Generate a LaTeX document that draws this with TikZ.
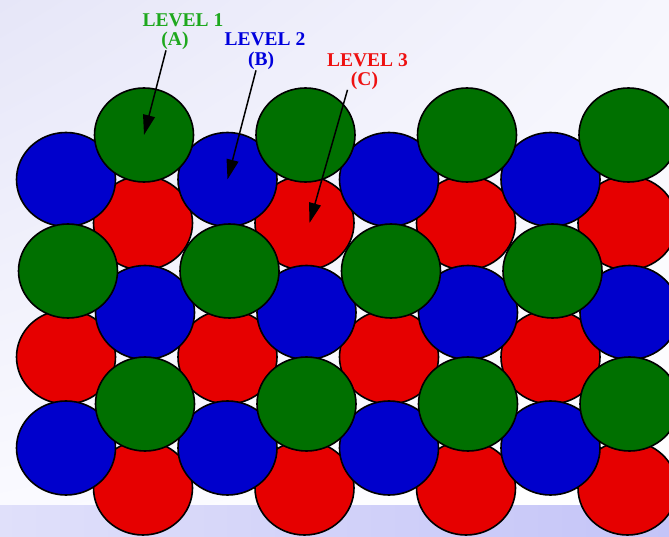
\documentclass[tikz,border=0pt]{standalone}
\usepackage{fontspec}
\setmainfont{Liberation Serif}
\usetikzlibrary{arrows.meta,shapes.geometric,shadings}
\definecolor{ballgreen}{HTML}{007000}
\definecolor{ballblue}{HTML}{0000CC}
\definecolor{ballred}{HTML}{E60000}
\definecolor{lvlgreen}{HTML}{1EA81E}
\definecolor{lvlblue}{HTML}{0000DD}
\definecolor{lvlred}{HTML}{EE1111}
\definecolor{bgcorner}{HTML}{E6E6F8}
\definecolor{bgright}{HTML}{F6F6FD}
\definecolor{bgpale}{HTML}{FAFAFF}
\definecolor{bandleft}{HTML}{E0E0FA}
\definecolor{bandright}{HTML}{C4C4F8}

\begin{document}
\begin{tikzpicture}[x=1pt,y=-1pt,
  ball/.style={draw=black,line width=1.6pt,ellipse,minimum width=99pt,minimum height=94pt,inner sep=0pt},
  level/.style={font=\fontsize{19.5}{22}\selectfont\bfseries,inner sep=0pt,anchor=base},
  pointer/.style={-{Triangle[length=20pt,width=12pt]},line width=1.5pt}]
  % slide background
  \clip (0,0) rectangle (669,537);
  \shade[upper left=bgcorner,upper right=bgright,lower left=bgpale,lower right=white] (0,0) rectangle (669,505);
  \shade[left color=bandleft,right color=bandright] (0,505) rectangle (669,537);
  % level C (red), then B (blue), then A (green) on top
  \foreach \y/\xo [count=\i] in {223/143,357/66,488/143}
    \foreach \j in {1,...,4}
      \node[ball,fill=ballred] (r\i-\j) at (\xo+161.5*\j-161.5,\y) {};
  \foreach \y/\xo [count=\i] in {179.5/66,312.5/145,448/66}
    \foreach \j in {1,...,4}
      \node[ball,fill=ballblue] (b\i-\j) at (\xo+161.5*\j-161.5,\y) {};
  \foreach \y/\xo [count=\i] in {135/144,271/68,404/145}
    \foreach \j in {1,...,4}
      \node[ball,fill=ballgreen] (g\i-\j) at (\xo+161.5*\j-161.5,\y) {};
  % labels
  \node[level,text=lvlgreen] (lvl1) at (183,26.5) {LEVEL 1};
  \node[level,text=lvlgreen] (lblA) at (175,46) {(A)};
  \node[level,text=lvlblue] (lvl2) at (265,46) {LEVEL 2};
  \node[level,text=lvlblue] (lblB) at (261,66) {(B)};
  \node[level,text=lvlred] (lvl3) at (367.5,67) {LEVEL 3};
  \node[level,text=lvlred] (lblC) at (364.5,85.5) {(C)};
  \draw[pointer] ([xshift=-9pt]lblA.south) -- (g1-1.center);
  \draw[pointer] ([xshift=-5pt]lblB.south) -- (b1-2.center);
  \draw[pointer] ([xshift=-17pt]lblC.south) -- ([xshift=5pt]r1-2.center);
\end{tikzpicture}
\end{document}
